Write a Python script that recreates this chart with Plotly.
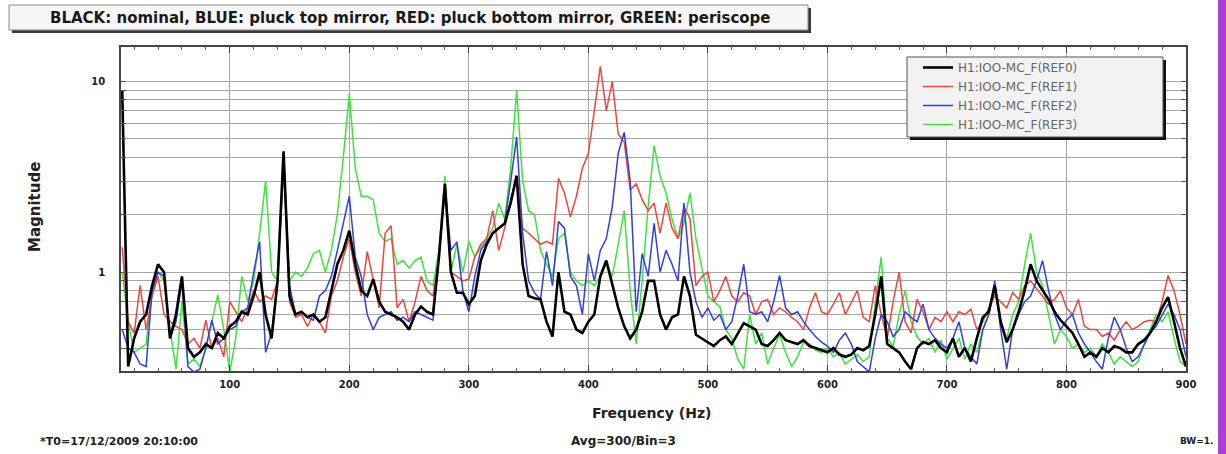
import plotly.graph_objects as go

# ---------------- data ----------------
freq = list(range(10, 901, 5))  # Hz

black = [
    9.0, 0.32, 0.45, 0.55, 0.6, 0.85, 1.1, 1.0, 0.45, 0.6,
    0.95, 0.4, 0.36, 0.38, 0.42, 0.4, 0.48, 0.45, 0.52, 0.55,
    0.62, 0.6, 0.75, 1.0, 0.6, 0.45, 0.9, 4.3, 0.75, 0.6,
    0.62, 0.58, 0.6, 0.55, 0.58, 0.8, 1.1, 1.3, 1.65, 1.1,
    0.8, 0.75, 0.92, 0.7, 0.62, 0.6, 0.58, 0.55, 0.5, 0.6,
    0.66, 0.62, 0.6, 1.2, 2.9, 1.0, 0.78, 0.78, 0.68, 0.75,
    1.15, 1.4, 1.6, 1.7, 1.8, 2.3, 3.2, 1.1, 0.75, 0.73,
    0.72, 0.55, 0.46, 1.0, 0.62, 0.6, 0.5, 0.48, 0.55, 0.6,
    0.95, 1.15, 0.85, 0.65, 0.52, 0.45, 0.5, 0.62, 0.9, 0.9,
    0.6, 0.5, 0.58, 0.6, 0.95, 0.75, 0.47, 0.45, 0.43, 0.41,
    0.44, 0.46, 0.42, 0.48, 0.54, 0.52, 0.5, 0.42, 0.41, 0.44,
    0.48, 0.44, 0.43, 0.42, 0.44, 0.41, 0.4, 0.39, 0.38, 0.4,
    0.37, 0.36, 0.37, 0.4, 0.39, 0.41, 0.6, 0.95, 0.42, 0.4,
    0.38, 0.34, 0.31, 0.4, 0.43, 0.42, 0.44, 0.4, 0.38, 0.45,
    0.36, 0.4, 0.34, 0.45, 0.58, 0.62, 0.85, 0.55, 0.43, 0.5,
    0.62, 0.8, 1.1, 0.9, 0.8, 0.72, 0.62, 0.56, 0.52, 0.48,
    0.42, 0.36, 0.38, 0.36, 0.4, 0.38, 0.41, 0.4, 0.38, 0.38,
    0.42, 0.44, 0.48, 0.55, 0.65, 0.74, 0.55, 0.4, 0.32,
]

red = [
    1.35, 0.55, 0.48, 0.85, 0.5, 0.75, 0.95, 0.6, 0.55, 0.52,
    0.5, 0.42, 0.45, 0.4, 0.56, 0.4, 0.45, 0.36, 0.7, 0.62,
    0.55, 0.65, 0.8, 0.7, 0.75, 0.72, 0.9, 4.0, 0.7, 0.58,
    0.6, 0.52, 0.6, 0.55, 0.48, 0.75, 0.9, 1.2, 1.5, 1.0,
    0.75, 1.28, 0.9, 0.65, 1.6, 1.75, 0.65, 0.72, 0.55, 0.7,
    0.95, 0.8, 0.75, 1.2, 2.8, 1.0, 0.95, 0.9, 0.92, 1.2,
    1.4, 1.5, 2.1, 1.3, 1.7, 2.4, 3.2, 1.7, 1.6, 1.5,
    1.4, 1.45, 1.4, 3.1, 2.6, 1.95, 2.5, 3.5, 4.2, 7.0,
    12.0, 7.0, 10.0, 5.3, 4.8, 2.7, 2.9, 2.4, 2.1, 2.3,
    1.6, 2.3, 1.7, 1.5, 2.2, 1.9, 0.85, 0.95, 1.0, 0.7,
    0.8, 0.95, 0.75, 0.7, 0.78, 0.75, 0.6, 0.7, 0.72, 0.6,
    0.65, 0.62, 0.58, 0.55, 0.5, 0.65, 0.78, 0.62, 0.6, 0.68,
    0.78, 0.6, 0.7, 0.8, 0.58, 0.55, 0.85, 0.6, 0.45, 0.7,
    1.0, 0.55, 0.48, 0.72, 0.62, 0.5, 0.58, 0.55, 0.62, 0.55,
    0.62, 0.6, 0.64, 0.5, 0.55, 0.65, 0.75, 0.7, 0.65, 0.78,
    0.72, 0.85, 0.9, 0.82, 0.75, 0.68, 0.72, 0.8, 0.65, 0.6,
    0.72, 0.52, 0.5, 0.5, 0.46, 0.48, 0.44, 0.5, 0.55, 0.5,
    0.52, 0.55, 0.56, 0.55, 0.7, 0.96, 0.8, 0.6, 0.42,
]

blue = [
    0.5, 0.4, 0.38, 0.33, 0.32, 0.8, 1.0, 0.95, 0.45, 0.55,
    0.9, 0.32, 0.3, 0.31, 0.4, 0.56, 0.42, 0.45, 0.5, 0.52,
    0.62, 0.65, 1.0, 1.44, 0.38, 0.48, 0.9, 4.2, 0.85, 0.6,
    0.62, 0.58, 0.56, 0.75, 0.8, 0.95, 1.3, 1.8, 2.5, 1.2,
    0.95, 0.6, 0.5, 0.58, 0.6, 0.62, 0.56, 0.58, 0.55, 0.62,
    0.6, 0.58, 0.56, 1.2, 2.8, 1.3, 1.44, 0.8, 0.62, 0.95,
    1.3, 1.45, 1.6, 1.7, 1.8, 3.0, 5.1, 1.6, 0.9, 0.78,
    0.72, 1.28, 0.85, 1.84, 1.7, 0.95, 0.85, 0.6, 1.25, 0.9,
    1.3, 1.5, 2.2, 4.2, 5.4, 3.0, 0.62, 1.25, 0.95, 1.8,
    1.0, 1.3, 1.1, 0.9, 2.3, 1.0, 0.7, 0.58, 0.65, 0.56,
    0.6, 0.5, 0.55, 0.75, 1.1, 0.62, 0.6, 0.62, 0.55, 0.7,
    0.96, 0.65, 0.6, 0.62, 0.55, 0.5, 0.46, 0.43, 0.41, 0.38,
    0.44, 0.48, 0.42, 0.34, 0.32, 0.3, 0.45, 0.6, 0.55, 0.46,
    0.5, 0.62, 0.58, 0.55, 0.68, 0.5, 0.45, 0.42, 0.4, 0.45,
    0.55, 0.4, 0.36, 0.33, 0.5, 0.6, 0.9, 0.5, 0.31, 0.5,
    0.6, 0.7, 0.75, 0.9, 1.15, 0.8, 0.6, 0.5, 0.56, 0.6,
    0.48, 0.42, 0.38, 0.34, 0.31, 0.45, 0.58, 0.5, 0.4, 0.34,
    0.36, 0.42, 0.48, 0.52, 0.6, 0.68, 0.6, 0.5, 0.36,
]

green = [
    1.0, 0.55, 0.38, 0.4, 0.42, 0.8, 1.0, 0.9, 0.5, 0.31,
    0.7, 0.33, 0.35, 0.32, 0.4, 0.55, 0.76, 0.5, 0.3, 0.45,
    0.95, 0.7, 0.9, 1.6, 3.0, 1.0, 0.9, 3.6, 0.9, 1.0,
    0.95, 1.05, 1.25, 1.3, 1.0, 1.3, 2.0, 4.0, 8.6, 3.5,
    2.5, 2.5, 2.4, 1.6, 1.45, 1.5, 1.1, 1.15, 1.05, 1.15,
    1.2, 0.9, 0.85, 1.3, 3.2, 1.0, 1.4, 1.0, 1.45, 1.2,
    1.35, 1.5, 1.7, 2.3, 1.9, 3.5, 9.0, 3.0, 2.1, 2.0,
    1.3, 1.1, 0.95, 1.5, 1.6, 1.0, 0.9, 0.85, 0.9, 0.85,
    0.95, 1.1, 0.95, 1.4, 2.1, 0.8, 0.42, 0.9, 2.2, 4.6,
    3.2, 2.6, 1.9, 1.5, 1.8, 2.6, 1.5, 1.05, 0.75, 0.7,
    0.66, 0.5, 0.45, 0.35, 0.31, 0.6, 0.42, 0.48, 0.33, 0.4,
    0.47, 0.38, 0.32, 0.36, 0.43, 0.42, 0.39, 0.38, 0.4, 0.36,
    0.38, 0.33, 0.35, 0.37, 0.34, 0.36, 0.7, 1.2, 0.45, 0.41,
    0.6, 0.8, 0.55, 0.46, 0.42, 0.45, 0.38, 0.44, 0.35, 0.4,
    0.45, 0.35, 0.42, 0.38, 0.5, 0.6, 0.8, 0.55, 0.45, 0.6,
    0.7, 1.1, 1.6, 1.0, 0.85, 0.6, 0.42, 0.5, 0.46, 0.4,
    0.42, 0.38, 0.4, 0.36, 0.42, 0.38, 0.33, 0.36, 0.34, 0.32,
    0.34, 0.42, 0.5, 0.6, 0.55, 0.62, 0.45, 0.34, 0.32,
]

series_names = ["H1:IOO-MC_F(REF0)", "H1:IOO-MC_F(REF1)", "H1:IOO-MC_F(REF2)", "H1:IOO-MC_F(REF3)"]
x_tickvals = [100, 200, 300, 400, 500, 600, 700, 800, 900]
y_tickvals = [0.3, 0.4, 0.5, 0.6, 0.7, 0.8, 0.9, 1, 2, 3, 4, 5, 6, 7, 8, 9, 10]
y_ticktext = ["", "", "", "", "", "", "", "<b>1</b>", "", "", "", "", "", "", "", "", "<b>10</b>"]

title_text = "BLACK: nominal, BLUE: pluck top mirror, RED: pluck bottom mirror, GREEN: periscope"

# ---------------- layout helpers (pixel -> paper) ----------------
W, H = 1226, 454
L, R, T, B = 121, 1186, 47, 371
PW, PH = R - L, B - T


def px(x):
    return (x - L) / PW


def py(y):
    return (B - y) / PH


FONT = "DejaVu Sans"

fig = go.Figure()

styles = [
    (green, series_names[3], "#3fe23f", 1.5, 4),
    (red, series_names[1], "#e8483f", 1.5, 2),
    (blue, series_names[2], "#3340de", 1.5, 3),
    (black, series_names[0], "#000000", 2.6, 1),
]
for ys, name, color, width, rank in styles:
    fig.add_trace(go.Scatter(
        x=freq, y=ys, mode="lines", name=name, legendrank=rank,
        line=dict(color=color, width=width),
    ))

grid_col = "#a8a8a8"

fig.update_xaxes(
    range=[9, 900], tickvals=x_tickvals,
    ticktext=[f"<b>{v}</b>" for v in x_tickvals],
    showgrid=True, gridcolor=grid_col, gridwidth=1,
    showline=True, linecolor="#444444", linewidth=1.5, mirror="ticks",
    ticks="inside", ticklen=6, tickcolor="#444444",
    minor=dict(dtick=20, tick0=0, ticks="inside", ticklen=3, tickcolor="#666666", showgrid=False),
    tickfont=dict(family=FONT, size=10, color="#222222"),
    ticklabelstandoff=3,
    zeroline=False,
)
fig.update_yaxes(
    type="log", range=[-0.518, 1.18],
    tickmode="array", tickvals=y_tickvals, ticktext=y_ticktext,
    showgrid=True, gridcolor=grid_col, gridwidth=1,
    showline=True, linecolor="#444444", linewidth=1.5, mirror="ticks",
    ticks="inside", ticklen=5, tickcolor="#555555",
    tickfont=dict(family=FONT, size=10, color="#222222"),
    ticklabelstandoff=12,
    zeroline=False,
)

shapes = [
    # title box shadow + box
    dict(type="rect", xref="paper", yref="paper", x0=px(12), x1=px(811), y0=py(33), y1=py(8),
         fillcolor="#3a3a3a", line=dict(width=0), layer="above"),
    dict(type="rect", xref="paper", yref="paper", x0=px(9), x1=px(808), y0=py(30), y1=py(5),
         fillcolor="#f6f6f6", line=dict(color="#8a8a8a", width=1), layer="above"),
    # legend box shadow + box
    dict(type="rect", xref="paper", yref="paper", x0=px(910), x1=px(1166), y0=py(140), y1=py(60),
         fillcolor="#111111", line=dict(width=0), layer="above"),
    dict(type="rect", xref="paper", yref="paper", x0=px(907), x1=px(1163), y0=py(137), y1=py(57),
         fillcolor="#f2f2f2", line=dict(color="#555555", width=1), layer="above"),
    # purple edge bar
    dict(type="rect", xref="paper", yref="paper", x0=px(1218), x1=px(1228), y0=py(456), y1=py(-2),
         fillcolor="#a93fd5", line=dict(width=0), layer="above"),
]

annotations = [
    dict(text="<b>" + title_text + "</b>", x=px(410), y=py(18), xref="paper", yref="paper",
         xanchor="center", yanchor="middle", showarrow=False,
         font=dict(family=FONT, size=15, color="#1a1a1a")),
    dict(text="<b>Frequency (Hz)</b>", x=px(651), y=py(413), xref="paper", yref="paper",
         xanchor="center", yanchor="middle", showarrow=False,
         font=dict(family=FONT, size=14, color="#222222")),
    dict(text="<b>Magnitude</b>", x=px(35), y=py(207), xref="paper", yref="paper",
         xanchor="center", yanchor="middle", showarrow=False, textangle=-90,
         font=dict(family=FONT, size=15, color="#222222")),
    dict(text="<b>*T0=17/12/2009 20:10:00</b>", x=px(38), y=py(441), xref="paper", yref="paper",
         xanchor="left", yanchor="middle", showarrow=False,
         font=dict(family=FONT, size=11, color="#222222")),
    dict(text="<b>Avg=300/Bin=3</b>", x=px(623), y=py(441), xref="paper", yref="paper",
         xanchor="center", yanchor="middle", showarrow=False,
         font=dict(family=FONT, size=12, color="#222222")),
    dict(text="<b>BW=1.</b>", x=px(1216), y=py(441), xref="paper", yref="paper",
         xanchor="right", yanchor="middle", showarrow=False,
         font=dict(family=FONT, size=9, color="#222222")),
]

fig.update_layout(
    width=W, height=H,
    margin=dict(l=L, r=W - R, t=T, b=H - B, pad=0),
    paper_bgcolor="white", plot_bgcolor="white",
    shapes=shapes, annotations=annotations,
    showlegend=True,
    legend=dict(x=px(918), y=py(53), xanchor="left", yanchor="top",
                bgcolor="rgba(0,0,0,0)", borderwidth=0,
                font=dict(family=FONT, size=12, color="#666666"),
                tracegroupgap=0),
)

fig.write_html("out.html")
